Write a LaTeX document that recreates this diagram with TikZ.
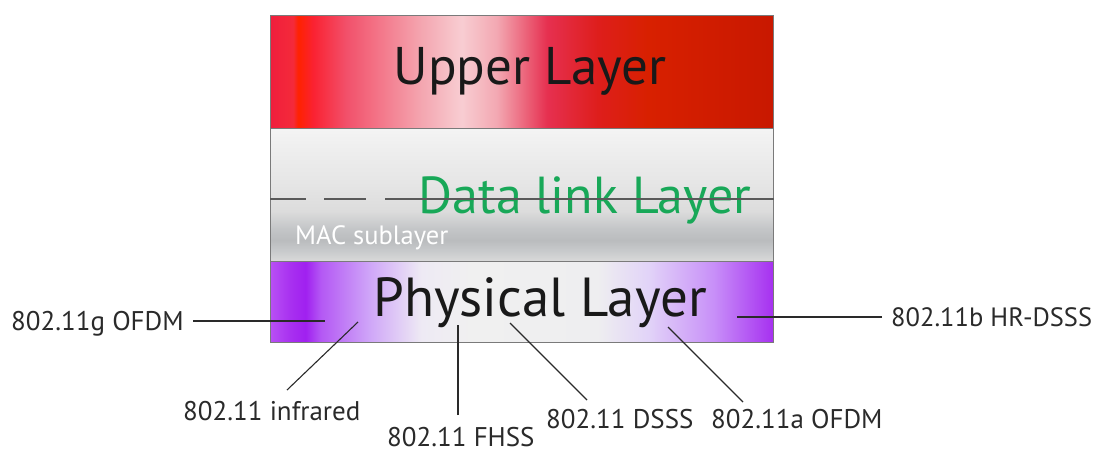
\documentclass[tikz,border=0pt]{standalone}
\usepackage{fontspec}
\setmainfont{PT Sans}
\definecolor{leadc}{HTML}{2A2A2A}
\definecolor{greent}{HTML}{18A858}
\definecolor{boxline}{HTML}{7A7A7A}
\definecolor{upA}{HTML}{F01E3C}\definecolor{upB}{HTML}{F42A3A}\definecolor{upC}{HTML}{FF2200}
\definecolor{upD}{HTML}{FA2232}\definecolor{upE}{HTML}{F2506A}\definecolor{upF}{HTML}{F4A6B0}
\definecolor{upG}{HTML}{F8CDD2}\definecolor{upH}{HTML}{F3A8B2}\definecolor{upI}{HTML}{E63050}
\definecolor{upJ}{HTML}{DE1E1C}\definecolor{upK}{HTML}{D82000}\definecolor{upL}{HTML}{C81800}
\definecolor{phA}{HTML}{B850F4}\definecolor{phB}{HTML}{A830F0}\definecolor{phC}{HTML}{A020F0}
\definecolor{phD}{HTML}{B458F4}\definecolor{phE}{HTML}{D0A8F8}\definecolor{phF}{HTML}{EEEAF4}
\definecolor{phG}{HTML}{F0F0F0}\definecolor{phH}{HTML}{EEEEF0}\definecolor{phI}{HTML}{E2D4F8}
\definecolor{phJ}{HTML}{C890F8}\definecolor{phK}{HTML}{A630F0}
\definecolor{grA}{HTML}{DADADA}\definecolor{grB}{HTML}{C8CACC}\definecolor{grC}{HTML}{BABCBE}
\definecolor{grD}{HTML}{C4C6C8}\definecolor{grE}{HTML}{DCDCDC}\definecolor{grF}{HTML}{E6E6E6}
\definecolor{grG}{HTML}{F0F0F0}\definecolor{grH}{HTML}{F4F4F4}
\pgfdeclarehorizontalshading{uppershade}{100bp}{%
color(0bp)=(upA); color(25bp)=(upA); color(27.25bp)=(upB); color(27.75bp)=(upC);
color(29.25bp)=(upD); color(32.5bp)=(upE); color(40bp)=(upF); color(44bp)=(upG);
color(47.5bp)=(upH); color(52.5bp)=(upI); color(57.5bp)=(upJ); color(62.5bp)=(upK);
color(75bp)=(upL); color(100bp)=(upL)}
\pgfdeclarehorizontalshading{physshade}{100bp}{%
color(0bp)=(phA); color(25bp)=(phA); color(27bp)=(phB); color(28.5bp)=(phC);
color(30bp)=(phD); color(35bp)=(phE); color(40bp)=(phF); color(45bp)=(phG);
color(57.5bp)=(phH); color(62.5bp)=(phI); color(69bp)=(phJ); color(75bp)=(phK);
color(100bp)=(phK)}
\pgfdeclareverticalshading{grayshade}{100bp}{%
color(0bp)=(grA); color(25bp)=(grA); color(29bp)=(grB); color(33bp)=(grC);
color(37.5bp)=(grD); color(44bp)=(grE); color(55bp)=(grF); color(70bp)=(grG);
color(75bp)=(grH); color(100bp)=(grH)}
\begin{document}
\begin{tikzpicture}[x=1pt,y=-1pt,
  layerbox/.style={draw=boxline,line width=1pt,minimum width=503pt,inner sep=0pt,anchor=north west},
  title/.style={font=\fontsize{53}{62}\selectfont,text=black!90,inner sep=0pt,anchor=base},
  lbl/.style={font=\fontsize{27}{32}\selectfont,text=leadc,inner sep=0pt,anchor=base west},
  leader/.style={draw=leadc,line width=1.1pt}]
\useasboundingbox (0,0) rectangle (1098,453);
\node[layerbox,minimum height=113pt,shading=uppershade] (upper) at (270,15) {};
\node[layerbox,minimum height=133pt,shading=grayshade] (dlink) at (270,128) {};
\node[layerbox,minimum height=81pt,shading=physshade] (phys) at (270,261) {};
\node[title] (uptxt) at (530,84) {Upper Layer};
\node[title,text=greent,font=\fontsize{52}{60}\selectfont] (dltxt) at (585,213) {Data link Layer};
\draw[draw=black!65,line width=1.3pt,dash pattern=on 36pt off 18pt on 42pt off 19pt on 600pt]
  (dlink.west |- 0,199) coordinate (dashA) -- (dlink.east |- 0,199) coordinate (dashB);
\node[font=\fontsize{26.5}{30}\selectfont,text=white,inner sep=0pt,anchor=base west] (mac) at (295,244) {MAC sublayer};
\node[title,font=\fontsize{55}{64}\selectfont] (phtxt) at (540,316) {Physical Layer};
% labels
\node[lbl] (lg) at (11,330) {802.11g OFDM};
\node[lbl] (linf) at (183,420) {802.11 infrared};
\node[lbl] (lfh) at (387,446) {802.11 FHSS};
\node[lbl] (lds) at (546,428) {802.11 DSSS};
\node[lbl] (la) at (711,428) {802.11a OFDM};
\node[lbl,font=\fontsize{26.5}{32}\selectfont] (lb) at (891,326) {802.11b HR-DSSS};
% leader ends
\coordinate (gO) at (193,321); \coordinate (gI) at (325,321);
\coordinate (infO) at (287,390); \coordinate (infI) at (358,322);
\coordinate (fhO) at (458,415); \coordinate (fhI) at (458,325);
\coordinate (dsO) at (587,400); \coordinate (dsI) at (510,323);
\coordinate (aO) at (743,402); \coordinate (aI) at (668,327);
\coordinate (bO) at (882,317); \coordinate (bI) at (737,317);
\draw[leader] (gO) -- (gI);
\draw[leader] (infO) -- (infI);
\draw[leader] (fhO) -- (fhI);
\draw[leader] (dsO) -- (dsI);
\draw[leader] (aO) -- (aI);
\draw[leader] (bO) -- (bI);
\end{tikzpicture}
\end{document}
